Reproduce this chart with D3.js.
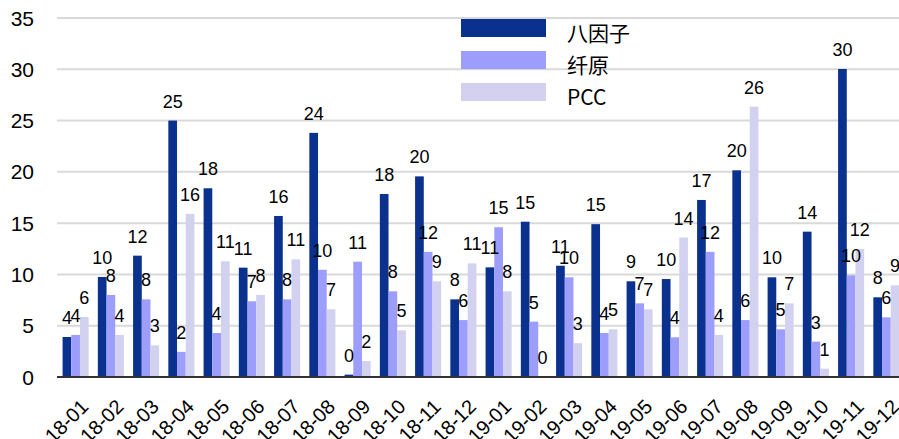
<!DOCTYPE html>
<html lang="zh">
<head>
<meta charset="UTF-8">
<title>八因子 / 纤原 / PCC</title>
<script src="https://d3js.org/d3.v7.min.js"></script>
<style>
    body { margin: 0; padding: 0; background: #fff; }
    svg { display: block; font-family: 'Liberation Sans', Arial, sans-serif; }
    .legend-text { font-family: 'Noto Sans CJK SC', sans-serif; }
</style>
</head>
<body>
<script>
    const months = ["18-01","18-02","18-03","18-04","18-05","18-06","18-07","18-08","18-09","18-10","18-11","18-12",
                    "19-01","19-02","19-03","19-04","19-05","19-06","19-07","19-08","19-09","19-10","19-11","19-12"];
    const seriesNames = ["八因子", "纤原", "PCC"];
    const baYinZi = [3.9, 9.75, 11.83, 25.0, 18.4, 10.66, 15.7, 23.8, 0.23, 17.84, 19.56, 7.57,
                     10.69, 15.14, 10.85, 14.9, 9.33, 9.55, 17.26, 20.15, 9.72, 14.17, 30.03, 7.77];
    const xianYuan = [4.1, 8.0, 7.57, 2.45, 4.29, 7.38, 7.57, 10.45, 11.24, 8.35, 12.2, 5.55,
                      14.6, 5.4, 9.72, 4.29, 7.18, 3.87, 12.2, 5.55, 4.65, 3.45, 9.91, 5.82];
    const pcc = [5.85, 4.1, 3.09, 15.9, 11.28, 8.0, 11.47, 6.6, 1.56, 4.55, 9.33, 11.08,
                 8.35, 0, 3.3, 4.65, 6.6, 13.6, 4.1, 26.36, 7.18, 0.81, 12.48, 8.94];
    const yTicks = [0, 5, 10, 15, 20, 25, 30, 35];
    const colors = ["#0b318f", "#9d9dfc", "#d2d2f0"];

    const width = 899, height = 439;
    const series = [baYinZi, xianYuan, pcc];

    const svg = d3.select("body").append("svg")
        .attr("width", width)
        .attr("height", height);

    const x = d3.scaleBand().domain(months).range([58, 904]).paddingInner(0.26).paddingOuter(0.13);
    const xs = d3.scaleBand().domain(d3.range(3)).range([0, x.bandwidth()]);
    const y = d3.scaleLinear().domain([0, 35]).range([377, 18]);

    // gridlines
    svg.append("g")
        .selectAll("line")
        .data(yTicks.filter(t => t > 0))
        .join("line")
        .attr("x1", 57).attr("x2", width)
        .attr("y1", d => y(d)).attr("y2", d => y(d))
        .attr("stroke", "#d9d9d9")
        .attr("stroke-width", 2);

    // y labels
    svg.append("g")
        .selectAll("text")
        .data(yTicks)
        .join("text")
        .attr("x", 34)
        .attr("y", d => y(d))
        .attr("dy", "0.36em")
        .attr("text-anchor", "end")
        .attr("font-size", 21)
        .attr("fill", "#000")
        .text(d => d);

    // legend
    const legend = svg.append("g");
    seriesNames.forEach((name, i) => {
        legend.append("rect")
            .attr("x", 461).attr("y", 19 + i * 32)
            .attr("width", 85).attr("height", 18)
            .attr("fill", colors[i]);
        legend.append("text")
            .attr("class", "legend-text")
            .attr("x", 567).attr("y", 33 + i * 32)
            .attr("dy", "0.36em")
            .attr("font-size", 21)
            .attr("fill", "#000")
            .text(name);
    });

    // bars
    const groups = svg.append("g")
        .selectAll("g")
        .data(months)
        .join("g")
        .attr("transform", d => `translate(${x(d)},0)`);

    groups.selectAll("rect")
        .data((m, mi) => series.map((s, si) => ({ si, v: s[mi] })))
        .join("rect")
        .attr("x", d => xs(d.si))
        .attr("width", xs.bandwidth())
        .attr("y", d => y(d.v))
        .attr("height", d => y(0) - y(d.v))
        .attr("fill", d => colors[d.si]);

    groups.selectAll("text")
        .data((m, mi) => series.map((s, si) => ({ si, v: s[mi] })))
        .join("text")
        .attr("x", d => xs(d.si) + xs.bandwidth() / 2)
        .attr("y", d => y(d.v) - 13)
        .attr("text-anchor", "middle")
        .attr("font-size", 18)
        .attr("fill", "#000")
        .text(d => Math.round(d.v));

    // baseline
    svg.append("line")
        .attr("x1", 57).attr("x2", width)
        .attr("y1", y(0)).attr("y2", y(0))
        .attr("stroke", "#333")
        .attr("stroke-width", 2);

    // x labels
    svg.append("g")
        .selectAll("text")
        .data(months)
        .join("text")
        .attr("transform", d => `translate(${x(d) + x.bandwidth() / 2 + 4},${398}) rotate(-45)`)
        .attr("text-anchor", "end")
        .attr("dy", "0.7em")
        .attr("font-size", 20)
        .attr("fill", "#000")
        .text(d => d);
</script>
</body>
</html>
